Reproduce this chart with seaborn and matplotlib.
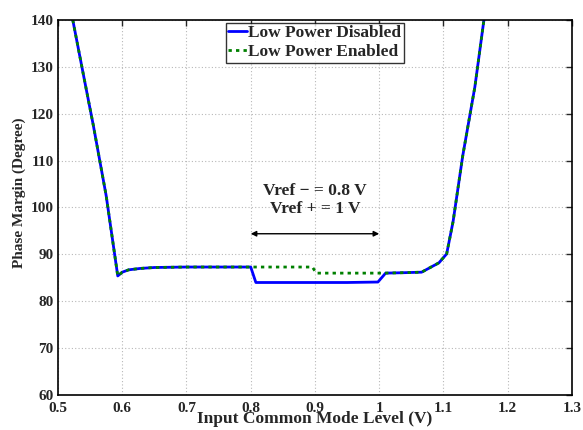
import numpy as np
import pandas as pd
import matplotlib
matplotlib.use("Agg")
import matplotlib.pyplot as plt
import seaborn as sns

# Data
x_disabled = [0.523, 0.54, 0.555, 0.575, 0.593, 0.60, 0.61, 0.628, 0.65, 0.70, 0.75, 0.80,
              0.808, 0.85, 0.90, 0.95, 0.998, 1.01, 1.04, 1.066, 1.093, 1.105, 1.115, 1.13,
              1.149, 1.163]
y_disabled = [140.0, 128.0, 117.5, 102.5, 85.4, 86.2, 86.7, 87.0, 87.2, 87.3, 87.3, 87.3,
              84.0, 84.0, 84.0, 84.0, 84.1, 86.0, 86.1, 86.2, 88.2, 90.1, 97.0, 111.0,
              125.8, 140.0]
x_enabled = [0.523, 0.54, 0.555, 0.575, 0.593, 0.60, 0.61, 0.628, 0.65, 0.70, 0.75, 0.80,
             0.85, 0.896, 0.902, 0.95, 0.998, 1.01, 1.04, 1.066, 1.093, 1.105, 1.115, 1.13,
             1.149, 1.163]
y_enabled = [140.0, 128.0, 117.5, 102.5, 85.4, 86.2, 86.7, 87.0, 87.2, 87.3, 87.3, 87.3,
             87.3, 87.3, 86.0, 86.0, 86.0, 86.0, 86.1, 86.2, 88.2, 90.1, 97.0, 111.0,
             125.8, 140.0]
series_names = ["Low Power Disabled", "Low Power Enabled"]
x_ticks = [0.5, 0.6, 0.7, 0.8, 0.9, 1.0, 1.1, 1.2, 1.3]
x_tick_labels = ["0.5", "0.6", "0.7", "0.8", "0.9", "1", "1.1", "1.2", "1.3"]
y_ticks = [60, 70, 80, 90, 100, 110, 120, 130, 140]

sns.set_style("white")
plt.rcParams['font.family'] = ['Liberation Serif', 'DejaVu Serif']
plt.rcParams['font.weight'] = 'bold'

fig = plt.figure(figsize=(5.83, 4.30), dpi=100)
ax = fig.add_axes([0.0995, 0.0814, 0.8815, 0.8721])

df1 = pd.DataFrame({"x": x_disabled, "y": y_disabled})
df2 = pd.DataFrame({"x": x_enabled, "y": y_enabled})
sns.lineplot(data=df1, x="x", y="y", ax=ax, color=(0, 0, 1), lw=2.0,
             label=series_names[0], sort=False)
sns.lineplot(data=df2, x="x", y="y", ax=ax, color=(0, 0.5, 0), lw=2.0,
             linestyle=(0, (1.2, 1.5)), label=series_names[1], sort=False)

ax.set_xlim(0.5, 1.3)
ax.set_ylim(60, 140)
ax.set_xticks(x_ticks)
ax.set_xticklabels(x_tick_labels)
ax.set_yticks(y_ticks)
ax.grid(True, color='#b8b8b8', linestyle=(0, (1, 2)), lw=0.8)
for s in ax.spines.values():
    s.set_linewidth(1.2)
    s.set_color('black')
ax.tick_params(axis='both', direction='in', length=4, width=1, labelsize=11,
               top=True, right=True)
ax.tick_params(axis='x', pad=5)
ax.tick_params(axis='y', pad=3)
for lab in ax.get_xticklabels() + ax.get_yticklabels():
    lab.set_fontweight('bold')

ax.set_xlabel("Input Common Mode Level (V)", fontsize=12.5, fontweight='bold')
ax.xaxis.set_label_coords(0.5, -0.043)
ax.set_ylabel("Phase Margin (Degree)", fontsize=11, fontweight='bold')
ax.yaxis.set_label_coords(-0.062, 0.54)

leg = ax.legend(loc='upper center', bbox_to_anchor=(0.5, 1.0), fontsize=12.5,
                frameon=True, fancybox=False, borderaxespad=0.15, handlelength=1.05,
                borderpad=0.15, labelspacing=0.15, handletextpad=0.1)
leg.get_frame().set_edgecolor('black')
leg.get_frame().set_linewidth(1.0)
for t in leg.get_texts():
    t.set_fontweight('bold')

ax.annotate("", xy=(0.8, 94.4), xytext=(1.0, 94.4),
            arrowprops=dict(arrowstyle='<|-|>', color='black', lw=1.0,
                            mutation_scale=8, shrinkA=0, shrinkB=0))
ax.text(0.9, 101.6, "Vref \u2212 = 0.8 V\nVref + = 1 V", ha='center', va='center',
        fontsize=12.5, fontweight='bold', linespacing=1.15)

fig.savefig("out.png", dpi=100)
